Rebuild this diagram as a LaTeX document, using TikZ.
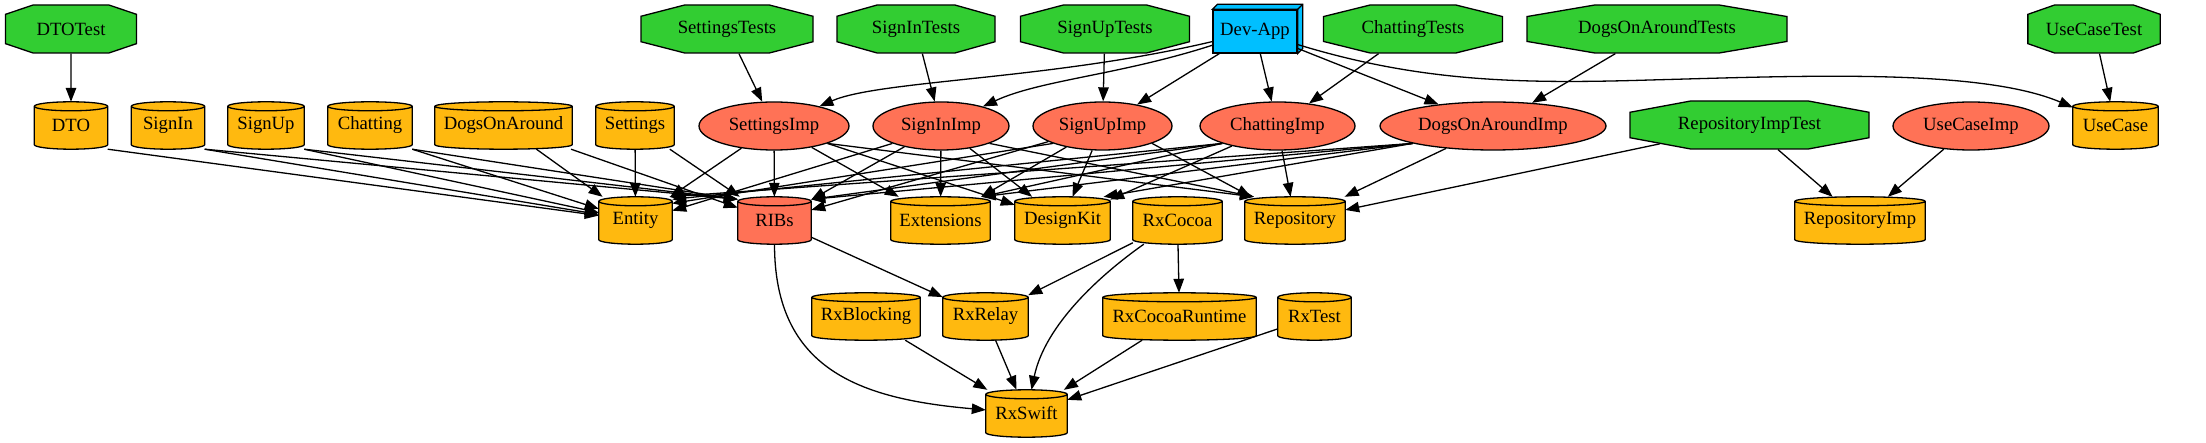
\documentclass[tikz,border=0pt]{standalone}
\usepackage{fontspec}
\setmainfont{Liberation Serif}
\usetikzlibrary{shapes.geometric,shapes.misc,arrows.meta,calc,backgrounds}

\definecolor{testgreen}{RGB}{50,205,50}
\definecolor{libgold}{RGB}{255,185,15}
\definecolor{impred}{RGB}{255,114,86}
\definecolor{appblue}{RGB}{0,191,255}

\tikzset{
	every node/.style={font=\fontsize{18.7}{22}\selectfont},
	test/.style={chamfered rectangle, minimum width=#1, chamfered rectangle angle={atan(0.293*#1/13)}, chamfered rectangle xsep={0.293*#1pt}, draw, line width=1.3pt, fill=testgreen, minimum height=48pt, inner sep=0pt},
	imp/.style={ellipse, draw, line width=1.3pt, fill=impred, minimum height=48pt, inner sep=1pt},
	lib/.style={rectangle, minimum height=47pt, inner sep=0pt},
	app/.style={rectangle, draw, line width=1.3pt, fill=appblue, minimum width=84pt, minimum height=43pt, inner sep=0pt},
	dep/.style={-{Triangle[length=14pt,width=10.5pt]}, line width=1.3pt}
}

\def\libshape[#1](#2){\path[draw, fill=#1, line width=1.3pt] let \p1=(#2.north west), \p2=(#2.south east), \n1={(\x2-\x1)/2} in
	(\x1,\y1-4.5pt) -- (\x1,\y2+4.5pt) arc[start angle=180, end angle=360, x radius=\n1, y radius=4.5pt]
	-- (\x2,\y1-4.5pt) arc[start angle=0, end angle=180, x radius=\n1, y radius=4.5pt] -- cycle
	(\x1,\y1-4.5pt) arc[start angle=180, end angle=360, x radius=\n1, y radius=4.5pt];}

\begin{document}
\begin{tikzpicture}[x=1pt,y=1pt]
				\useasboundingbox (0,0) rectangle (2206,-443);
				
				\node[test=131] (DTOTest) at (71,-29) {DTOTest};
				\node[test=172] (SettingsTests) at (727,-29) {SettingsTests};
				\node[test=158] (SignInTests) at (916,-29) {SignInTests};
				\node[test=169] (SignUpTests) at (1105,-29) {SignUpTests};
				\node[app] (DevApp) at (1255,-31.5) {Dev-App};
				\node[test=179] (ChattingTests) at (1413,-29) {ChattingTests};
				\node[test=260] (DogsOnAroundTests) at (1657,-29) {DogsOnAroundTests};
				\node[test=127] (UseCaseTest) at (2094,-29) {UseCaseTest};
				\draw[line width=1.3pt, fill=appblue] (DevApp.north west) -- ++(5,5) -- ($(DevApp.north east)+(5,5)$) -- ($(DevApp.south east)+(5,5)$) -- (DevApp.south east) -- (DevApp.north east) -- cycle;
				\draw[line width=1.3pt] (DevApp.north east) -- ++(5,5);
				
				\node[lib, minimum width=73] (DTO) at (71,-125.5) {DTO};
				\node[lib, minimum width=73] (SignIn) at (168,-125.5) {SignIn};
				\node[lib, minimum width=76] (SignUp) at (266,-125.5) {SignUp};
				\node[lib, minimum width=84] (Chatting) at (370,-125.5) {Chatting};
				\node[lib, minimum width=137] (DogsOnAround) at (503.5,-125.5) {DogsOnAround};
				\node[lib, minimum width=78] (Settings) at (635,-125.5) {Settings};
				\node[imp, minimum width=150] (SettingsImp) at (774,-126) {SettingsImp};
				\node[imp, minimum width=136] (SignInImp) at (941,-126) {SignInImp};
				\node[imp, minimum width=139] (SignUpImp) at (1102.5,-126) {SignUpImp};
				\node[imp, minimum width=155] (ChattingImp) at (1277.5,-126) {ChattingImp};
				\node[imp, minimum width=226] (DogsOnAroundImp) at (1493,-126) {DogsOnAroundImp};
				\node[test=239] (RepositoryImpTest) at (1749.5,-125) {RepositoryImpTest};
				\node[imp, minimum width=156] (UseCaseImp) at (1971,-126) {UseCaseImp};
				\node[lib, minimum width=85] (UseCase) at (2115.5,-125.5) {UseCase};
				
				\node[lib, minimum width=73] (Entity) at (635.5,-220.5) {Entity};
				\node[lib, minimum width=73] (RIBs) at (774.5,-220.5) {RIBs};
				\node[lib, minimum width=99] (Extensions) at (940.5,-220.5) {Extensions};
				\node[lib, minimum width=95] (DesignKit) at (1062.5,-220.5) {DesignKit};
				\node[lib, minimum width=89] (RxCocoa) at (1177.5,-220.5) {RxCocoa};
				\node[lib, minimum width=100] (Repository) at (1295,-220.5) {Repository};
				\node[lib, minimum width=130] (RepositoryImp) at (1860,-220.5) {RepositoryImp};
				
				\node[lib, minimum width=108] (RxBlocking) at (866,-316.5) {RxBlocking};
				\node[lib, minimum width=85] (RxRelay) at (985.5,-316.5) {RxRelay};
				\node[lib, minimum width=153] (RxCocoaRuntime) at (1179.5,-316.5) {RxCocoaRuntime};
				\node[lib, minimum width=73] (RxTest) at (1314.5,-316.5) {RxTest};
				\node[lib, minimum width=81] (RxSwift) at (1026.5,-413.5) {RxSwift};
				
				\begin{scope}[on background layer]
					\foreach \lib in {DTO,SignIn,SignUp,Chatting,DogsOnAround,Settings,UseCase,Entity,Extensions,DesignKit,RxCocoa,Repository,RepositoryImp,RxBlocking,RxRelay,RxCocoaRuntime,RxTest,RxSwift}
						{\libshape[libgold](\lib)}
					\libshape[impred](RIBs)
				\end{scope}
				
				\draw[dep] (DTOTest) -- (DTO);
				\draw[dep] (SettingsTests) -- (SettingsImp);
				\draw[dep] (SignInTests) -- (SignInImp);
				\draw[dep] (SignUpTests) -- (SignUpImp);
				\draw[dep] (ChattingTests) -- (ChattingImp);
				\draw[dep] (DogsOnAroundTests) -- (DogsOnAroundImp);
				\draw[dep] (UseCaseTest) -- (UseCase);
				\draw[dep] (RepositoryImpTest) -- (RepositoryImp);
				\draw[dep] (RepositoryImpTest) -- (Repository);
				\draw[dep] (UseCaseImp) -- (RepositoryImp);
				
				\draw[dep] (DevApp) .. controls (1050,-80) and (880,-80) .. (SettingsImp);
				\draw[dep] (DevApp) .. controls (1120,-75) and (1040,-80) .. (SignInImp);
				\draw[dep] (DevApp) -- (SignUpImp);
				\draw[dep] (DevApp) -- (ChattingImp);
				\draw[dep] (DevApp) -- (DogsOnAroundImp);
				\draw[dep] (DevApp) .. controls (1420,-82) and (1520,-84) .. (1650,-80) .. controls (1800,-76) and (1980,-68) .. (UseCase);
				
				\draw[dep] (DTO.south east) -- (Entity);
				\draw[dep] (SignIn.south east) -- (Entity);
				\draw[dep] (SignIn.south east) -- (RIBs.150);
				\draw[dep] (SignUp.south east) -- (Entity);
				\draw[dep] (SignUp.south east) -- (RIBs.150);
				\draw[dep] (Chatting.south east) -- (Entity);
				\draw[dep] (Chatting.south east) -- (RIBs.150);
				\draw[dep] (DogsOnAround) -- (Entity);
				\draw[dep] (DogsOnAround) -- (RIBs);
				\draw[dep] (Settings) -- (Entity);
				\draw[dep] (Settings) -- (RIBs);
				
				\draw[dep] (SettingsImp) -- (Entity);
				\draw[dep] (SettingsImp) -- (RIBs);
				\draw[dep] (SettingsImp) -- (Extensions);
				\draw[dep] (SettingsImp.south east) -- (DesignKit);
				\draw[dep] (SettingsImp.south east) -- (Repository.150);
				\draw[dep] (SignInImp.south west) -- (Entity.15);
				\draw[dep] (SignInImp) -- (RIBs);
				\draw[dep] (SignInImp) -- (Extensions);
				\draw[dep] (SignInImp) -- (DesignKit);
				\draw[dep] (SignInImp.south east) -- (Repository.150);
				\draw[dep] (SignUpImp.south west) -- (Entity.25);
				\draw[dep] (SignUpImp) -- (RIBs);
				\draw[dep] (SignUpImp) -- (Extensions);
				\draw[dep] (SignUpImp) -- (DesignKit);
				\draw[dep] (SignUpImp.south east) -- (Repository);
				\draw[dep] (ChattingImp.south west) -- (Entity.30);
				\draw[dep] (ChattingImp.south west) -- (RIBs.30);
				\draw[dep] (ChattingImp.south west) -- (Extensions.30);
				\draw[dep] (ChattingImp) -- (DesignKit);
				\draw[dep] (ChattingImp) -- (Repository);
				\draw[dep] (DogsOnAroundImp.south west) -- (Entity.35);
				\draw[dep] (DogsOnAroundImp.south west) -- (RIBs.30);
				\draw[dep] (DogsOnAroundImp.south west) -- (Extensions.30);
				\draw[dep] (DogsOnAroundImp.south west) -- (DesignKit.30);
				\draw[dep] (DogsOnAroundImp) -- (Repository);
				
				\draw[dep] (RIBs) -- (RxRelay);
				\draw[dep] (RIBs) to[out=-90, in=175, looseness=1.2] (RxSwift);
				\draw[dep] (RxCocoa) -- (RxRelay);
				\draw[dep] (RxCocoa) .. controls (1100,-275) and (1045,-325) .. (RxSwift);
				\draw[dep] (RxCocoa) -- (RxCocoaRuntime);
				\draw[dep] (RxBlocking) -- (RxSwift);
				\draw[dep] (RxRelay) -- (RxSwift);
				\draw[dep] (RxCocoaRuntime) -- (RxSwift);
				\draw[dep] (RxTest) -- (RxSwift);
\end{tikzpicture}
\end{document}
